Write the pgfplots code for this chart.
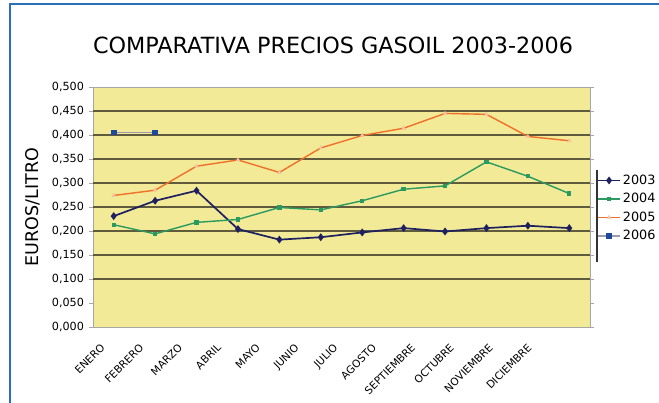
\documentclass[border=0pt]{standalone}
\usepackage{fontspec}
\setmainfont{DejaVu Sans}
\usepackage{pgfplots}
\pgfplotsset{compat=1.18}
\definecolor{bgyellow}{HTML}{F2EA96}
\definecolor{gridc}{HTML}{5F5B3C}
\definecolor{frameblue}{HTML}{2A6FB8}
\definecolor{cA}{HTML}{1E2060}
\definecolor{cB}{HTML}{2A9A60}
\definecolor{cC}{HTML}{F0702A}
\definecolor{cD}{HTML}{1F4A9A}
\definecolor{cDline}{HTML}{9A9AB0}
\begin{document}
\begin{tikzpicture}[x=1pt,y=1pt]
\useasboundingbox (0,0) rectangle (659,403);
\draw[color=frameblue, line width=1.5pt] (10,-5) -- (10,399) -- (670,399);
\node[font=\fontsize{22.3}{26}\selectfont] at (333,358) {COMPARATIVA PRECIOS GASOIL 2003-2006};
\node[rotate=90, font=\fontsize{17.5}{20}\selectfont] at (33,196) {EUROS/LITRO};
\begin{axis}[
  at={(93pt,76pt)}, anchor=south west,
  scale only axis, width=497pt, height=240pt,
  xmin=-0.5, xmax=11.5, ymin=0, ymax=0.5,
  axis background/.style={fill=bgyellow},
  axis line style={gray!70, line width=0.8pt},
  xtick={-0.14,0.797,1.734,2.671,3.608,4.545,5.482,6.419,7.356,8.293,9.23,10.167},
  xticklabels={ENERO,FEBRERO,MARZO,ABRIL,MAYO,JUNIO,JULIO,AGOSTO,SEPTIEMBRE,OCTUBRE,NOVIEMBRE,DICIEMBRE},
  xtick style={draw=none},
  xticklabel style={font=\fontsize{10.5}{12}\selectfont, xshift=-8pt, yshift=-7pt, rotate=45, anchor=north east},
  ytick={0,0.05,0.1,0.15,0.2,0.25,0.3,0.35,0.4,0.45,0.5},
  yticklabel style={font=\fontsize{11.2}{13}\selectfont, xshift=-1.5pt},
  ytick style={gray!70, line width=0.8pt},
  tick align=outside, major tick length=4pt,
  /pgf/number format/.cd, fixed, fixed zerofill, precision=3, use comma, assume math mode=true,
  /pgfplots/.cd,
  extra y ticks={0.1,0.15,0.2,0.25,0.3,0.35,0.4,0.45},
  extra y tick labels={},
  extra y tick style={grid=major, major tick length=0pt},
  major grid style={gridc, line width=2pt},
  legend style={at={(1,0.495)}, anchor=west, xshift=6pt, draw=none, fill=none,
    font=\fontsize{12.8}{15}\selectfont, row sep=3.5pt, inner xsep=1pt},
  legend cell align=left,
  legend image code/.code={\draw[mark repeat=2,mark phase=2] plot coordinates {(0pt,0pt) (11pt,0pt) (22pt,0pt)};},
]
\addplot[cA, line width=1.7pt, mark=diamond*, mark size=2.6pt] coordinates {
(0,0.231) (1,0.263) (2,0.284) (3,0.204) (4,0.182) (5,0.187) (6,0.197) (7,0.206) (8,0.199) (9,0.206) (10,0.211) (11,0.206)};
\addlegendentry{2003}
\addplot[cB, line width=1.4pt, mark=square*, mark size=1.5pt] coordinates {
(0,0.213) (1,0.194) (2,0.218) (3,0.224) (4,0.249) (5,0.244) (6,0.263) (7,0.287) (8,0.294) (9,0.344) (10,0.314) (11,0.278)};
\addlegendentry{2004}
\addplot[cC, line width=1.4pt, mark=triangle*, mark size=2pt, mark options={fill=white!70!cC, draw=white!50!cC, line width=0.5pt}] coordinates {
(0,0.274) (1,0.285) (2,0.335) (3,0.348) (4,0.322) (5,0.373) (6,0.399) (7,0.414) (8,0.445) (9,0.443) (10,0.397) (11,0.388)};
\addlegendentry{2005}
\addplot[cDline, line width=1.6pt, mark=square*, mark size=2pt, mark options={cD}] coordinates {
(0,0.405) (1,0.405)};
\addlegendentry{2006}
\end{axis}
\draw[gray!40!black, line width=1.8pt] (597,141) -- (597,233);
\end{tikzpicture}
\end{document}
